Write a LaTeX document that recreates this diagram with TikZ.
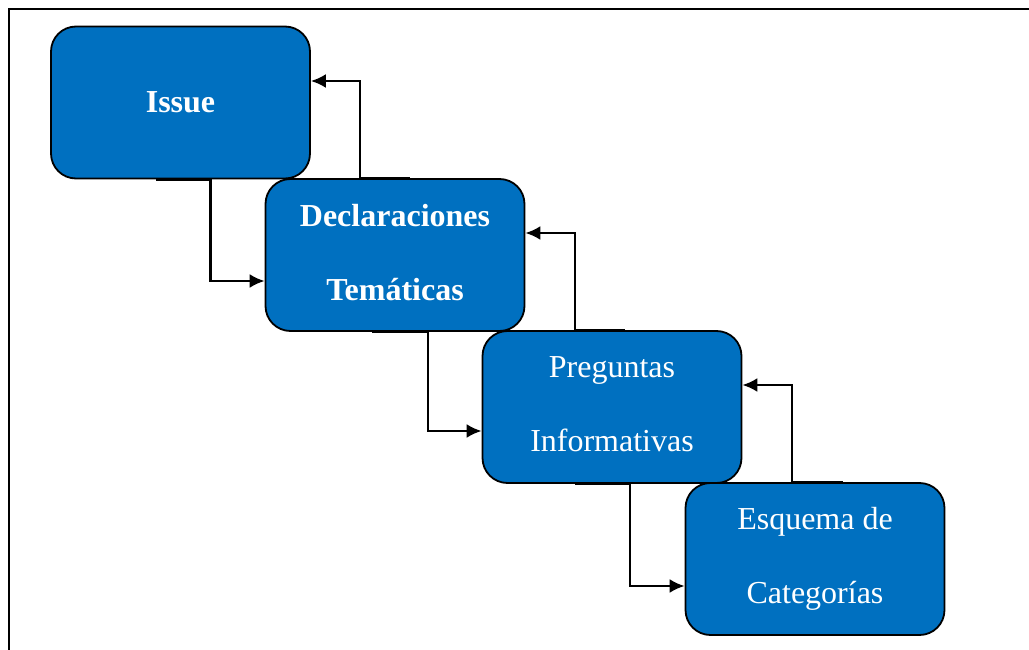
\documentclass[tikz,border=0pt]{standalone}
\usepackage{fontspec}
\setmainfont{Liberation Serif}
\usetikzlibrary{arrows.meta}

\definecolor{diafillcolor}{rgb}{0.000000, 0.439216, 0.752941}
\definecolor{dialinecolor}{rgb}{0.000000, 0.000000, 0.000000}

\tikzset{
  etapa/.style={draw=dialinecolor, fill=diafillcolor, line width=1.8pt,
    rounded corners=25pt, minimum width=259pt, minimum height=152pt,
    text=white, align=center, inner sep=0pt,
    font=\fontsize{32}{74}\selectfont},
  conector/.style={draw=dialinecolor, line width=2.4pt,
    -{Latex[length=15pt,width=14pt]}}
}

\begin{document}
\begin{tikzpicture}[x=1pt,y=-1pt]
\useasboundingbox (0,0) rectangle (1029,650);
\begin{scope}
\clip (0,0) rectangle (1029,650);
\draw[line width=2.4pt] (9,9) rectangle (1040,660);
\end{scope}
% etapas
\node[etapa] (issue) at (180.5,102.5) {\textbf{Issue}};
\node[etapa] (decl) at (395,255) {\textbf{Declaraciones}\\\textbf{Temáticas}\rule[-6pt]{0pt}{0pt}};
\node[etapa] (preg) at (612,407) {Preguntas\\Informativas\rule[-6pt]{0pt}{0pt}};
\node[etapa] (esq) at (815,559) {Esquema de\\Categorías};
% avance
\draw[conector] ([xshift=-25pt]issue.south) -- ([xshift=30pt]issue.south) |- ([yshift=-26pt]decl.west);
\draw[conector] ([xshift=-23pt]decl.south) -- ([xshift=33pt]decl.south) |- ([yshift=-24pt]preg.west);
\draw[conector] ([xshift=-37pt]preg.south) -- ([xshift=18pt]preg.south) |- ([yshift=-27pt]esq.west);
% retorno
\draw[conector] ([xshift=15pt]decl.north) -- ([xshift=-35pt]decl.north) |- ([yshift=21.5pt]issue.east);
\draw[conector] ([xshift=13pt]preg.north) -- ([xshift=-37pt]preg.north) |- ([yshift=22pt]decl.east);
\draw[conector] ([xshift=28pt]esq.north) -- ([xshift=-23pt]esq.north) |- ([yshift=22pt]preg.east);
\end{tikzpicture}
\end{document}
